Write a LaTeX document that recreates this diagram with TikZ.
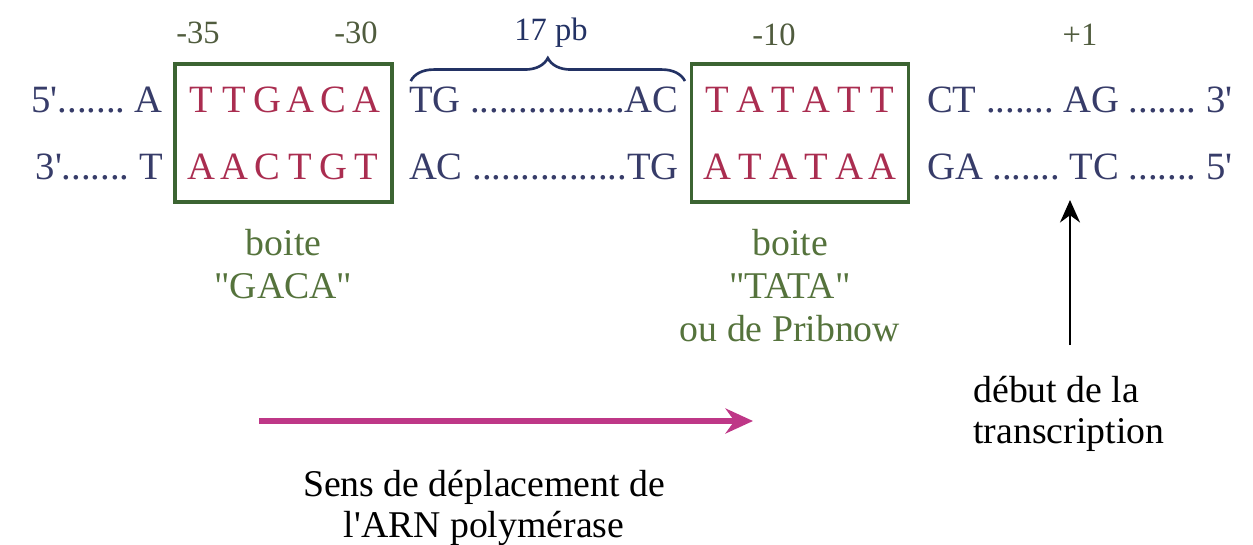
\documentclass[tikz,border=0pt]{standalone}
\usepackage{fontspec}
\setmainfont{Liberation Serif}[Ligatures=TeXOff]
\usetikzlibrary{matrix,positioning,arrows.meta,decorations.pathreplacing}
\definecolor{dnablue}{RGB}{55,60,105}
\definecolor{boxred}{RGB}{170,45,80}
\definecolor{boxgreen}{RGB}{60,100,50}
\definecolor{labgreen}{RGB}{85,115,60}
\definecolor{numgreen}{RGB}{80,92,62}
\definecolor{bracenavy}{RGB}{35,50,100}
\definecolor{polpink}{RGB}{190,55,135}
\newcommand{\dnafont}{\fontsize{22}{26}\selectfont}

\begin{document}
\begin{tikzpicture}[x=0.02cm,y=-0.02cm,
    boxmat/.style={matrix of nodes,draw=boxgreen,line width=2pt,
    inner xsep=0.19cm,inner ysep=0.44cm,row sep=0.84cm,column sep=0pt,
    nodes={text=boxred,anchor=base,minimum width=0.66cm,text height=0.52cm,
      text depth=0pt,inner sep=0pt,font=\dnafont}},
    dna/.style={text=dnablue,inner sep=0pt,font=\dnafont},
    num/.style={text=numgreen,font=\fontsize{18.5}{20}\selectfont},
    boxlab/.style={text=labgreen,align=center,inner sep=0pt,font=\fontsize{21.5}{24.5}\selectfont},
    txt/.style={text=black,inner sep=0pt,font=\fontsize{21.5}{23}\selectfont}]
 \useasboundingbox (0,0) rectangle (1253,544);
 \matrix[boxmat] (m35) at (283.5,133) {T & T & G & A & C & A\\ A & A & C & T & G & T\\};
 \matrix[boxmat] (m10) at (800,133) {T & A & T & A & T & T\\ A & T & A & T & A & A\\};
 \node[dna,anchor=base east] (s5) at ([xshift=-0.39cm]m35-1-1.base west) {5'.......\ A};
 \node[dna,anchor=base east] (s3) at ([xshift=-0.39cm]m35-2-1.base west) {3'.......\ T};
 \node[dna,anchor=base west] (tg) at ([xshift=0.49cm]m35-1-6.base east) {TG\ ................AC};
 \node[dna,anchor=base west] (ac) at ([xshift=0.49cm]m35-2-6.base east) {AC\ ................TG};
 \node[dna,anchor=base west] (ct) at ([xshift=0.52cm]m10-1-6.base east) {CT\ .......\ AG\ .......\ 3'};
 \node[dna,anchor=base west] (ga) at ([xshift=0.52cm]m10-2-6.base east) {GA\ .......\ TC\ .......\ 5'};
 \node[num] (n35) at (198,33) {-35};
 \node[num] (n30) at (356,33) {-30};
 \node[num] (n10) at (774,35) {-10};
 \node[num] (n1) at (1080,35) {+1};
 \draw[bracenavy,line width=1.5pt,decorate,decoration={brace,amplitude=0.46cm}]
  ([xshift=0.04cm,yshift=0.1cm]tg.north west) -- ([xshift=0.12cm,yshift=0.1cm]tg.north east);
 \node[num,text=bracenavy] (pb) at (551,33) {17 pb};
 \node[boxlab,below=0.5cm of m35] (gaca) {boite\\"GACA"};
 \node[boxlab,below=0.5cm of m10,xshift=-0.2cm] (tata) {boite\\"TATA"\\ou de Pribnow};
 \coordinate (tss) at (1070,200);
 \node[txt,align=left,anchor=north west] (debut) at (973,376) {début de la\\transcription};
 \draw[line width=1.6pt,-{Stealth[length=0.45cm,width=0.4cm]}]
  ([yshift=0.62cm]debut.north -| tss) -- (tss);
 \coordinate (polA) at (259,421);
 \coordinate (polB) at (753,421);
 \draw[polpink,line width=3pt,-{Stealth[length=0.55cm,width=0.5cm]}] (polA) -- (polB);
 \node[txt,align=center,anchor=north] (sens) at (484,470) {Sens de déplacement de\\l'ARN polymérase};
\end{tikzpicture}
\end{document}
